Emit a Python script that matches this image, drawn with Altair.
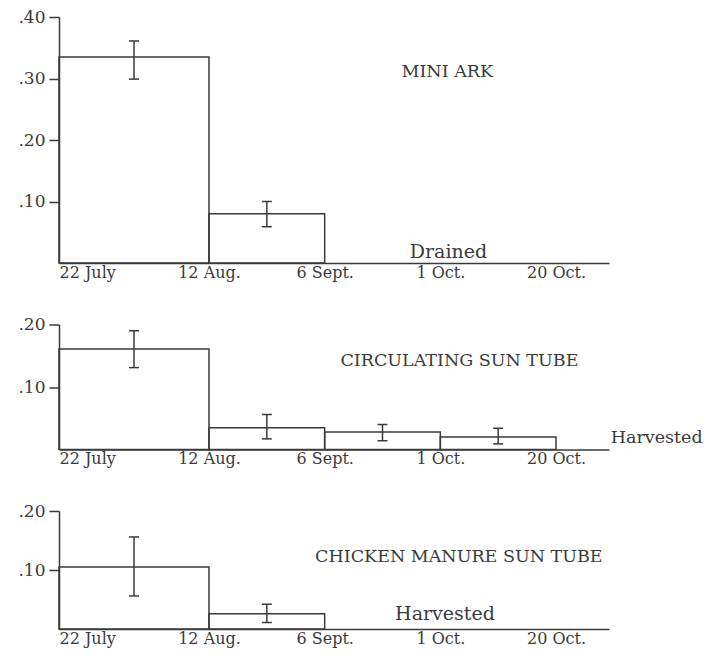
import json
import altair as alt
import pandas as pd

# ---- data ----
dates = ["22 July", "12 Aug.", "6 Sept.", "1 Oct.", "20 Oct."]

mini_ark_value = [0.335, 0.080]
mini_ark_low = [0.299, 0.059]
mini_ark_high = [0.361, 0.100]

circ_value = [0.161, 0.035, 0.028, 0.020]
circ_low = [0.131, 0.017, 0.014, 0.009]
circ_high = [0.190, 0.056, 0.040, 0.034]

chicken_value = [0.105, 0.026]
chicken_low = [0.056, 0.011]
chicken_high = [0.156, 0.042]

titles = ["MINI ARK", "CIRCULATING SUN TUBE", "CHICKEN MANURE SUN TUBE"]
notes = ["Drained", "Harvested", "Harvested"]

# ---- style ----
FONT = "DejaVu Serif"
INK = "#3a3a3a"
W = 550
X_DOMAIN = [0, 1, 4, 4.46]
X_RANGE = [0, 150, 497, 550]


def panel(values, lows, highs, ymax, yticks, height, title, tpos, note, npos, nalign, nsize):
    df = pd.DataFrame({
        "start": list(range(len(values))),
        "value": values,
        "low": lows,
        "high": highs,
    })
    xs = alt.Scale(domain=X_DOMAIN, range=X_RANGE)
    ys = alt.Scale(domain=[0, ymax], nice=False, zero=True)
    xaxis = alt.Axis(
        values=list(range(len(dates))),
        labelExpr=f"{json.dumps(dates)}[datum.value]",
        title=None, grid=False, ticks=False, tickSize=0, labelPadding=1,
        labelFlush=True, domainColor=INK, domainWidth=1.5,
        labelFont=FONT, labelFontSize=16, labelColor=INK,
    )
    yaxis = alt.Axis(
        values=yticks,
        labelExpr="substring(format(datum.value, '.2f'), 1)",
        title=None, grid=False, tickSize=10, tickWidth=1.5, tickColor=INK,
        domainColor=INK, domainWidth=1.5, labelPadding=4,
        labelFont=FONT, labelFontSize=17, labelColor=INK,
    )
    base = alt.Chart(df).transform_calculate(
        end="datum.start + 1", mid="datum.start + 0.5"
    )
    bars = base.mark_rect(fill="transparent", stroke=INK, strokeWidth=1.5).encode(
        x=alt.X("start:Q", scale=xs, axis=xaxis),
        x2="end:Q",
        y=alt.Y("value:Q", scale=ys, axis=yaxis),
        y2=alt.datum(0),
    )
    err = base.mark_rule(stroke=INK, strokeWidth=1.5).encode(
        x=alt.X("mid:Q", scale=xs),
        y=alt.Y("low:Q", scale=ys),
        y2="high:Q",
    )
    cap_lo = base.mark_tick(orient="horizontal", size=10, thickness=1.5, color=INK, opacity=1).encode(
        x=alt.X("mid:Q", scale=xs), y=alt.Y("low:Q", scale=ys)
    )
    cap_hi = base.mark_tick(orient="horizontal", size=10, thickness=1.5, color=INK, opacity=1).encode(
        x=alt.X("mid:Q", scale=xs), y=alt.Y("high:Q", scale=ys)
    )
    ttl = alt.Chart(pd.DataFrame({"t": [title]})).mark_text(
        font=FONT, fontSize=17.5, color=INK, align="center", baseline="middle"
    ).encode(
        x=alt.datum(tpos[0], scale=xs), y=alt.datum(tpos[1], scale=ys), text="t:N"
    )
    nt = alt.Chart(pd.DataFrame({"t": [note]})).mark_text(
        font=FONT, fontSize=nsize, color=INK, align=nalign, baseline="alphabetic"
    ).encode(
        x=alt.datum(npos[0], scale=xs), y=alt.datum(npos[1], scale=ys), text="t:N"
    )
    return alt.layer(bars, err, cap_lo, cap_hi, ttl, nt).properties(width=W, height=height)


p1 = panel(mini_ark_value, mini_ark_low, mini_ark_high, 0.4, [0.1, 0.2, 0.3, 0.4], 246,
           titles[0], (3.06, 0.31), notes[0], (3.07, 0.008), "center", 19)
p2 = panel(circ_value, circ_low, circ_high, 0.2, [0.1, 0.2], 125,
           titles[1], (3.165, 0.141), notes[1], (4.475, 0.011), "left", 17.5)
p3 = panel(chicken_value, chicken_low, chicken_high, 0.2, [0.1, 0.2], 118,
           titles[2], (3.16, 0.122), notes[2], (3.04, 0.015), "center", 19)

chart = alt.vconcat(p1, p2, p3, spacing=61.5).properties(
    bounds="flush",
    padding={"left": 9, "top": 0, "right": 0, "bottom": 2},
).configure(background="white").configure_view(stroke=None)

chart.save("out.html", embed_options={"renderer": "svg", "actions": False})
